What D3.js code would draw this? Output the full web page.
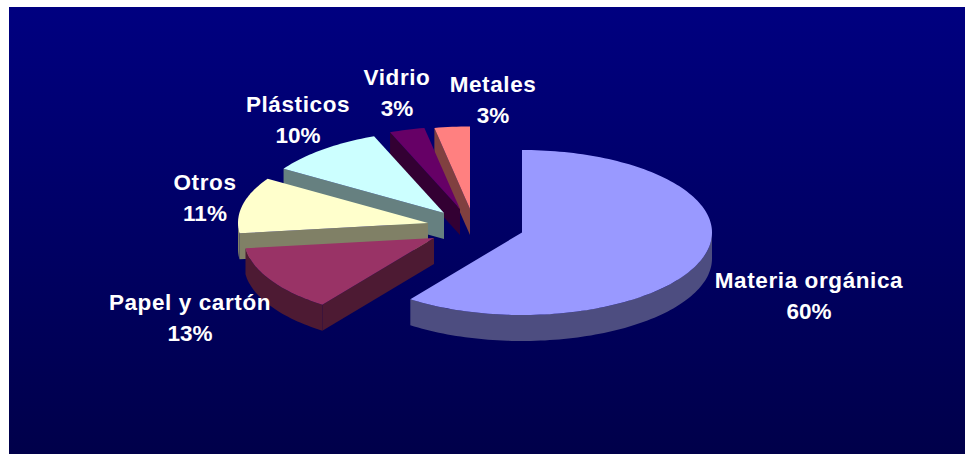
<!DOCTYPE html>
<html>
<head>
<meta charset="utf-8">
<script src="https://cdn.jsdelivr.net/npm/d3@7"></script>
<style>
	html, body {margin: 0; padding: 0; background: #fff; overflow: hidden;}
	text {font-family: "Liberation Sans", Arial, sans-serif; font-weight: bold; fill: #fff;}
</style>
</head>
<body>
<div id="svg-container"></div>
<script>
var categories = ["Materia orgánica", "Papel y cartón", "Otros", "Plásticos", "Vidrio", "Metales"];
var values = [60, 13, 11, 10, 3, 3];
var top_colors = ["#9999ff", "#993366", "#ffffcc", "#ccffff", "#660066", "#ff8080"];
var side_colors = ["#4d4d80", "#4d1a33", "#808066", "#668080", "#330033", "#804040"];

var w = 965;
var h = 454;
var rx = 190;
var ry = 82.5;
var depth = 26;

// where each slice's apex ended up after the explode
var apex_x = [522, 434, 428, 444, 460, 470];
var apex_y = [232.5, 238, 223, 213, 209, 209];

// label centre and first baseline
var label_x = [809, 190, 205, 298, 397, 493];
var label_y = [288, 310, 190, 112, 85, 92];
var line_gap = 30.5;

var svg = d3.select("#svg-container").append("svg")
	.attr("width", w)
	.attr("height", h)
	.style("display", "block");

var grad = svg.append("defs").append("linearGradient")
	.attr("id", "bg")
	.attr("x1", 0).attr("y1", 0)
	.attr("x2", 0).attr("y2", 1);
grad.append("stop").attr("offset", "0%").attr("stop-color", "#000080");
grad.append("stop").attr("offset", "100%").attr("stop-color", "#00004a");

svg.append("rect")
	.attr("x", 9)
	.attr("y", 7)
	.attr("width", w - 9)
	.attr("height", h - 7)
	.attr("fill", "url(#bg)");

var slices = d3.pie().sort(null).value(function (d) {return d;})(values);

var xs = d3.scaleLinear().domain([-1, 1]).range([-rx, rx]);
var ys = d3.scaleLinear().domain([-1, 1]).range([ry, -ry]);
var line = d3.line();

// point on the rim, angle clockwise from 12 o'clock
function rim (a, dy) {
	return [xs(Math.sin(a)), ys(Math.cos(a)) + (dy || 0)];
}

function arc_points (a0, a1, dy) {
	var n = Math.max(2, Math.ceil(Math.abs(a1 - a0) * 40));
	return d3.range(n + 1).map(function (i) {
		return rim(a0 + (a1 - a0) * i / n, dy);
	});
}

// rim wall only exists on the part of the arc facing the viewer
function wall_path (d) {
	var a0 = Math.max(d.startAngle, Math.PI / 2);
	var a1 = Math.min(d.endAngle, Math.PI * 1.5);
	if (a1 <= a0) {return null;}
	return line(arc_points(a0, a1, 0).concat(arc_points(a1, a0, depth))) + "Z";
}

// cut face along the start edge, seen when it points down
function face_path (d) {
	if (d.startAngle < Math.PI / 2) {return null;}
	var p = rim(d.startAngle);
	return line([[0, 0], p, [p[0], p[1] + depth], [0, depth]]) + "Z";
}

function top_path (d) {
	return line([[0, 0]].concat(arc_points(d.startAngle, d.endAngle, 0))) + "Z";
}

// painted back to front
var order = [5, 4, 3, 2, 1, 0];

order.forEach(function (i) {
	var d = slices[i];
	var g = svg.append("g")
		.attr("transform", "translate(" + apex_x[i] + "," + apex_y[i] + ")");

	[face_path(d), wall_path(d)].forEach(function (p) {
		if (p) {
			g.append("path").attr("d", p).attr("fill", side_colors[i]);
		}
	});

	g.append("path").attr("d", top_path(d)).attr("fill", top_colors[i]);
});

var labels = svg.append("g").selectAll("text")
	.data(categories)
	.enter()
	.append("text")
	.attr("text-anchor", "middle")
	.style("font-size", "22.5px");

labels.append("tspan")
	.attr("x", function (d, i) {return label_x[i];})
	.attr("y", function (d, i) {return label_y[i];})
	.style("letter-spacing", "0.6px")
	.text(function (d) {return d;});

labels.append("tspan")
	.attr("x", function (d, i) {return label_x[i];})
	.attr("y", function (d, i) {return label_y[i] + line_gap;})
	.text(function (d, i) {return values[i] + "%";});
</script>
</body>
</html>
